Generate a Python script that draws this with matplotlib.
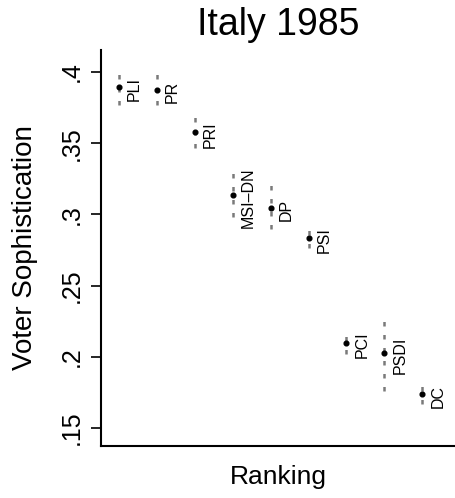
import matplotlib
matplotlib.use("Agg")
import matplotlib.pyplot as plt

plt.rcParams['font.family'] = ['Liberation Sans', 'DejaVu Sans']

# party rankings and estimates
parties = ["PLI", "PR", "PRI", "MSI\u2013DN", "DP", "PSI", "PCI", "PSDI", "DC"]
rank = [1, 2, 3, 4, 5, 6, 7, 8, 9]
soph = [0.3895, 0.3874, 0.3577, 0.3133, 0.3042, 0.2837, 0.2098, 0.2028, 0.1738]
ci_low = [0.3768, 0.3768, 0.3465, 0.2985, 0.2894, 0.2761, 0.2021, 0.1761, 0.1668]
ci_high = [0.4014, 0.4014, 0.3689, 0.3294, 0.3224, 0.2901, 0.2175, 0.2308, 0.1801]

yticks = [0.15, 0.2, 0.25, 0.3, 0.35, 0.4]
ytick_labels = [".15", ".2", ".25", ".3", ".35", ".4"]

fig = plt.figure(figsize=(4.56, 4.98), dpi=100)
ax = fig.add_axes([0.2215, 0.1044, 0.7785, 0.7952])

# confidence intervals
ax.vlines(rank, ci_low, ci_high, colors="#7a7a7a", linestyles=(0, (1.8, 3.4)), lw=1.8)
# point estimates
ax.plot(rank, soph, "o", color="black", ms=3.4, ls="none")

for r, s, p in zip(rank, soph, parties):
    ax.annotate(p, (r, s), xytext=(8, -2), textcoords="offset pixels",
                rotation=90, ha="left", va="center", fontsize=11.5)

ax.set_xlim(0.526, 9.89)
ax.set_ylim(0.1374, 0.4154)
ax.set_xticks([])
ax.set_yticks(yticks)
ax.set_yticklabels(ytick_labels, rotation=90, va="center", fontsize=18)
ax.tick_params(axis="y", direction="out", length=7.2, width=1.2, pad=5)

for side in ["top", "right"]:
    ax.spines[side].set_visible(False)
for side in ["left", "bottom"]:
    ax.spines[side].set_linewidth(1.5)

ax.set_ylabel("Voter Sophistication", fontsize=20)
ax.yaxis.set_label_coords(-0.177, 0.5)
ax.set_xlabel("Ranking", fontsize=19, labelpad=14)
ax.set_title("Italy 1985", fontsize=27, pad=11)

fig.savefig("out.png", dpi=100)
